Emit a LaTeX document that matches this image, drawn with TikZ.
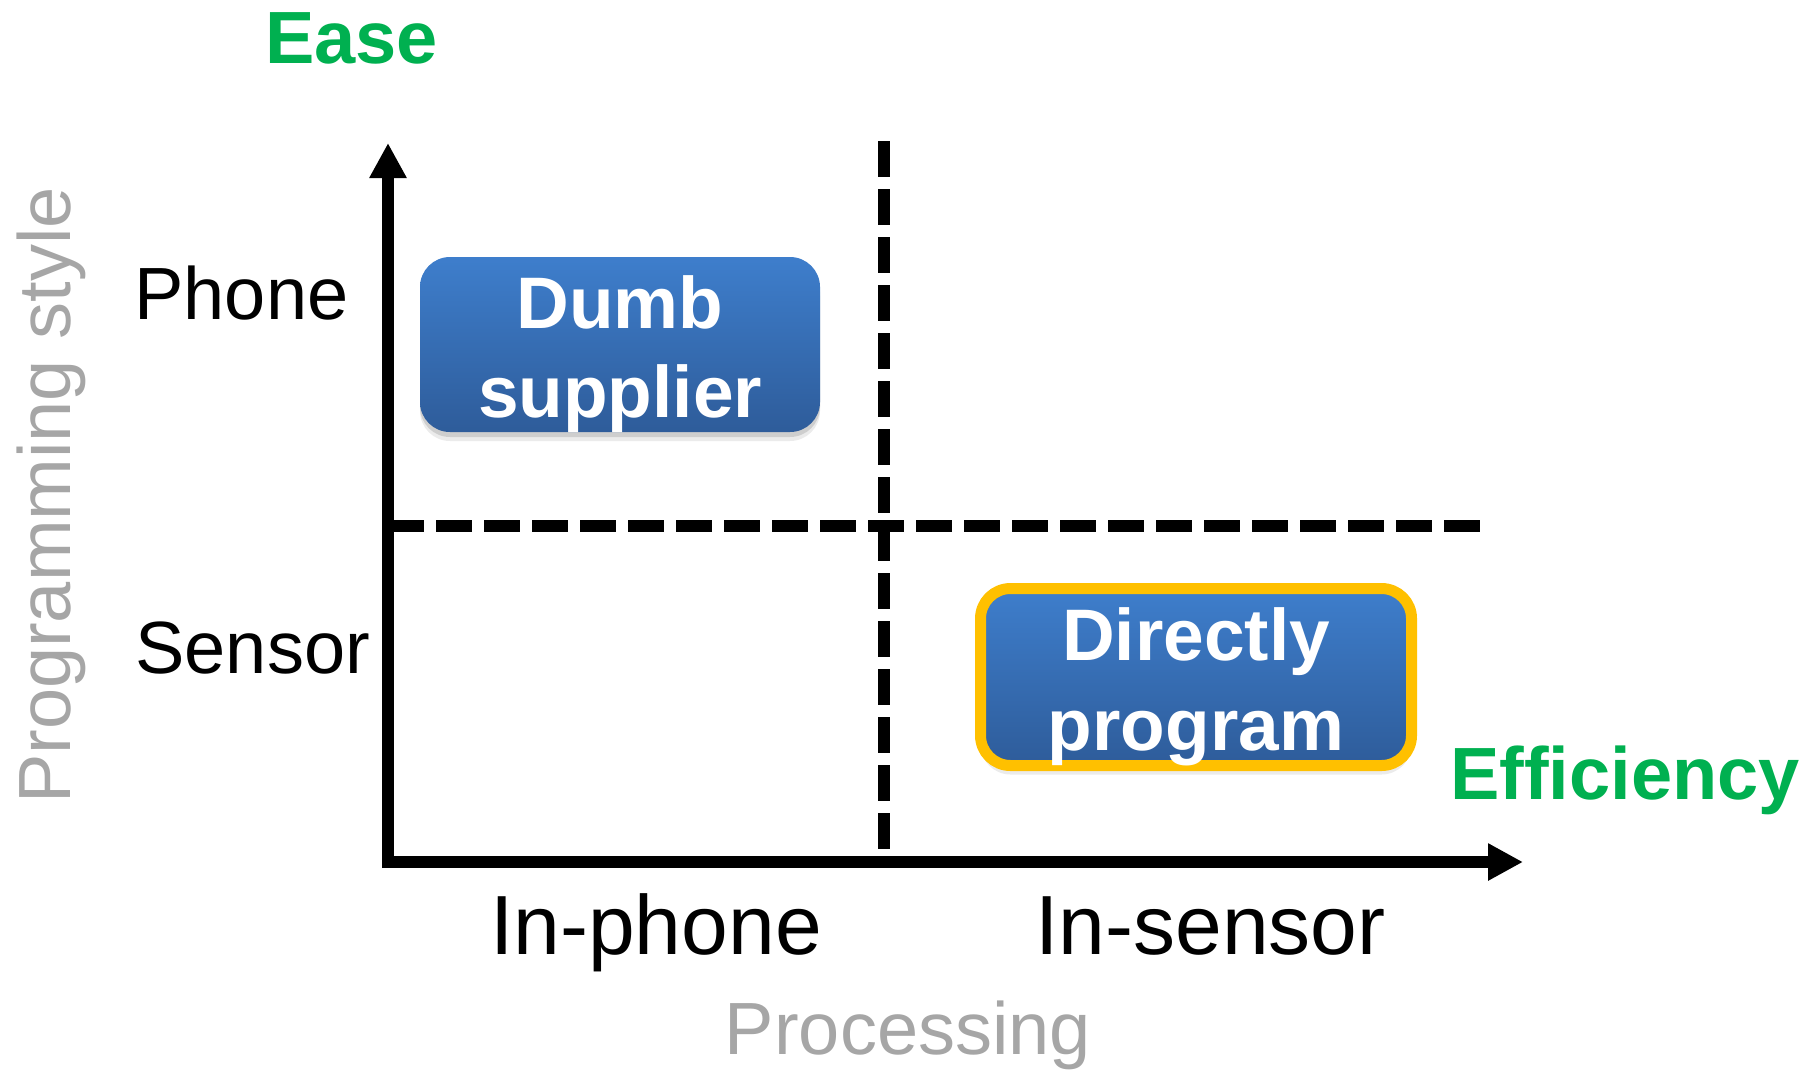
\documentclass[tikz,border=0pt]{standalone}
\usepackage{fontspec}
\setmainfont{Liberation Sans}
\usetikzlibrary{arrows.meta,shadows}

\definecolor{easegreen}{HTML}{00B050}
\definecolor{axisgray}{HTML}{A6A6A6}
\definecolor{boxtop}{HTML}{3E7ECC}
\definecolor{boxbot}{HTML}{2E5C9A}
\definecolor{hilite}{HTML}{FFC000}

\newcommand\szstd{\fontsize{37pt}{44pt}\selectfont}
\newcommand\szbig{\fontsize{42pt}{50pt}\selectfont}
\newcommand\szbox{\fontsize{36.5pt}{44pt}\selectfont}

\begin{document}
\begin{tikzpicture}[x=0.5pt,y=-0.5pt,
  axisline/.style={line width=6pt, -{Triangle[length=17.5pt,width=17.5pt]}},
  divider/.style={line width=6pt, dash pattern=on 18pt off 6pt},
  quad/.style={rounded corners=15pt, top color=boxtop, bottom color=boxbot,
    inner sep=0pt, minimum width=200pt, minimum height=87.5pt,
    drop shadow={fill=black, opacity=0.08, shadow xshift=0pt, shadow yshift=-4.5pt},
    drop shadow={fill=black, opacity=0.12, shadow xshift=0pt, shadow yshift=-2.5pt}},
  pick/.style={quad, draw=hilite, line width=5.5pt,
    minimum width=215.5pt, minimum height=88.5pt},
  lbl/.style={inner sep=0pt, anchor=base, font=\szstd},
  boxtext/.style={inner sep=0pt, anchor=base, text=white, font=\szbox\bfseries},
  goal/.style={lbl, text=easegreen, font=\szstd\bfseries},
  dim/.style={lbl, text=axisgray},
  tick/.style={lbl, font=\szbig}
]
  % canvas
  \useasboundingbox (0,0) rectangle (1818,1072);

  % corner points of the chart
  \coordinate (origin) at (388,862);
  \coordinate (ybot) at (388,868);
  \coordinate (ytop) at (388,143);
  \coordinate (xleft) at (382,862);
  \coordinate (xright) at (1523,862);
  \coordinate (hstart) at (388,526);
  \coordinate (hend) at (1480,526);
  \coordinate (vstart) at (884,141);
  \coordinate (vend) at (884,849);

  % quadrant dividers
  \draw[divider] (hstart) -- (hend);
  \draw[divider] (vstart) -- (vend);

  % axes
  \draw[axisline] (ybot) -- (ytop);
  \draw[axisline] (xleft) -- (xright);

  % quadrant boxes
  \node[quad] (dumb) at (620,344.5) {};
  \node[boxtext] (dumbA) at (620,328) {Dumb};
  \node[boxtext] (dumbB) at (620,417) {supplier};

  \node[pick] (direct) at (1196,677) {};
  \node[boxtext] (directA) at (1196,660) {Directly};
  \node[boxtext] (directB) at (1196,750) {program};

  % axis goals
  \node[goal] (ease) at (351.5,63) {Ease};
  \node[goal] (eff) at (1625,799) {Efficiency};

  % row labels
  \node[lbl, anchor=base west] (phone) at (134,319) {Phone};
  \node[lbl, anchor=base west] (sensor) at (135,673) {Sensor};

  % column labels
  \node[tick] (inphone) at (656,954) {In-phone};
  \node[tick] (insensor) at (1210.5,954) {In-sensor};

  % axis titles
  \node[dim] (proc) at (908,1054) {Processing};
  \node[dim, rotate=90] (style) at (70,495.5) {Programming style};
\end{tikzpicture}
\end{document}
